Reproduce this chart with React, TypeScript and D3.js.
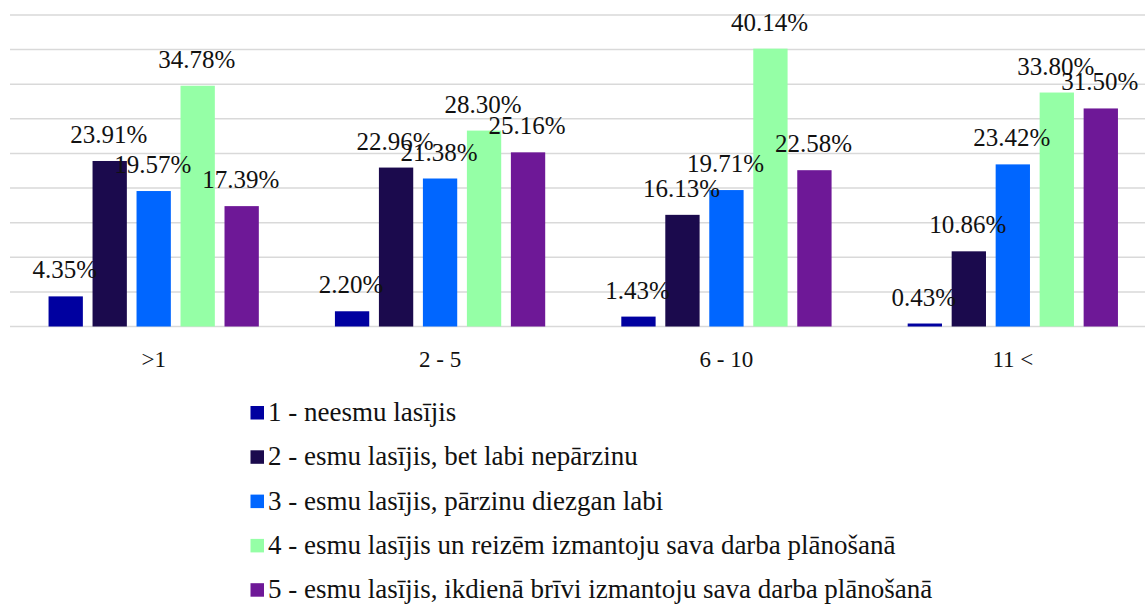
import React from "react";
import * as d3 from "d3";

const categories = [">1", "2 - 5", "6 - 10", "11 <"];
const seriesNames = [
  "1 - neesmu lasījis",
  "2 - esmu lasījis, bet labi nepārzinu",
  "3 - esmu lasījis, pārzinu diezgan labi",
  "4 - esmu lasījis un reizēm izmantoju sava darba plānošanā",
  "5 - esmu lasījis, ikdienā brīvi izmantoju sava darba plānošanā",
];
const series1 = [4.35, 2.2, 1.43, 0.43];
const series2 = [23.91, 22.96, 16.13, 10.86];
const series3 = [19.57, 21.38, 19.71, 23.42];
const series4 = [34.78, 28.3, 40.14, 33.8];
const series5 = [17.39, 25.16, 22.58, 31.5];
const seriesValues = [series1, series2, series3, series4, series5];
const colors = ["#0000A0", "#1B0A4D", "#0066FF", "#95FFA6", "#6E1897"];
const gridTicks = [0, 5, 10, 15, 20, 25, 30, 35, 40, 45];

const W = 1145;
const H = 605;
const FONT = "'Liberation Serif', Tinos, 'Times New Roman', Times, serif";

export default function App() {
  const x0 = d3.scaleBand<string>().domain(categories).range([10.5, 1156]).padding(0);
  const x1 = d3
    .scaleBand<number>()
    .domain(d3.range(seriesNames.length))
    .range([0, x0.bandwidth()])
    .paddingInner(0.22)
    .paddingOuter(0.865);
  const y = d3.scaleLinear().domain([0, 45]).range([326.5, 15]);

  return (
    <div style={{ position: "absolute", left: 0, top: 0 }}>
      <svg width={W} height={H} style={{ display: "block", background: "#fff", fontFamily: FONT }}>
        {gridTicks.map((t) => (
          <line
            key={t}
            x1={10}
            x2={W}
            y1={y(t)}
            y2={y(t)}
            stroke="#d9d9d9"
            strokeWidth={1.5}
          />
        ))}
        {categories.map((c, ci) => (
          <g key={c} transform={`translate(${x0(c)},0)`}>
            {seriesValues.map((vals, si) => (
              <rect
                key={si}
                x={x1(si)}
                y={y(vals[ci])}
                width={x1.bandwidth()}
                height={y(0) - y(vals[ci])}
                fill={colors[si]}
              />
            ))}
          </g>
        ))}
        {categories.map((c, ci) => (
          <g key={c + "-lbl"} transform={`translate(${x0(c)},0)`}>
            {seriesValues.map((vals, si) => (
              <text
                key={si}
                x={(x1(si) as number) + x1.bandwidth() / 2 - 1}
                y={y(vals[ci]) - 18}
                textAnchor="middle"
                style={{ fontFamily: FONT, fontSize: 25 }}
                fill="#111"
              >
                {vals[ci].toFixed(2) + "%"}
              </text>
            ))}
          </g>
        ))}
        {categories.map((c) => (
          <text
            key={c + "-cat"}
            x={(x0(c) as number) + x0.bandwidth() / 2}
            y={367}
            textAnchor="middle"
            style={{ fontFamily: FONT, fontSize: 23 }}
            fill="#111"
          >
            {c}
          </text>
        ))}
        {seriesNames.map((name, i) => {
          const base = 421 + i * 44.3;
          return (
            <g key={name}>
              <rect x={250.5} y={base - 15} width={13.5} height={13.5} fill={colors[i]} />
              <text x={268} y={base} style={{ fontFamily: FONT, fontSize: 27 }} fill="#111">
                {name}
              </text>
            </g>
          );
        })}
      </svg>
    </div>
  );
}
